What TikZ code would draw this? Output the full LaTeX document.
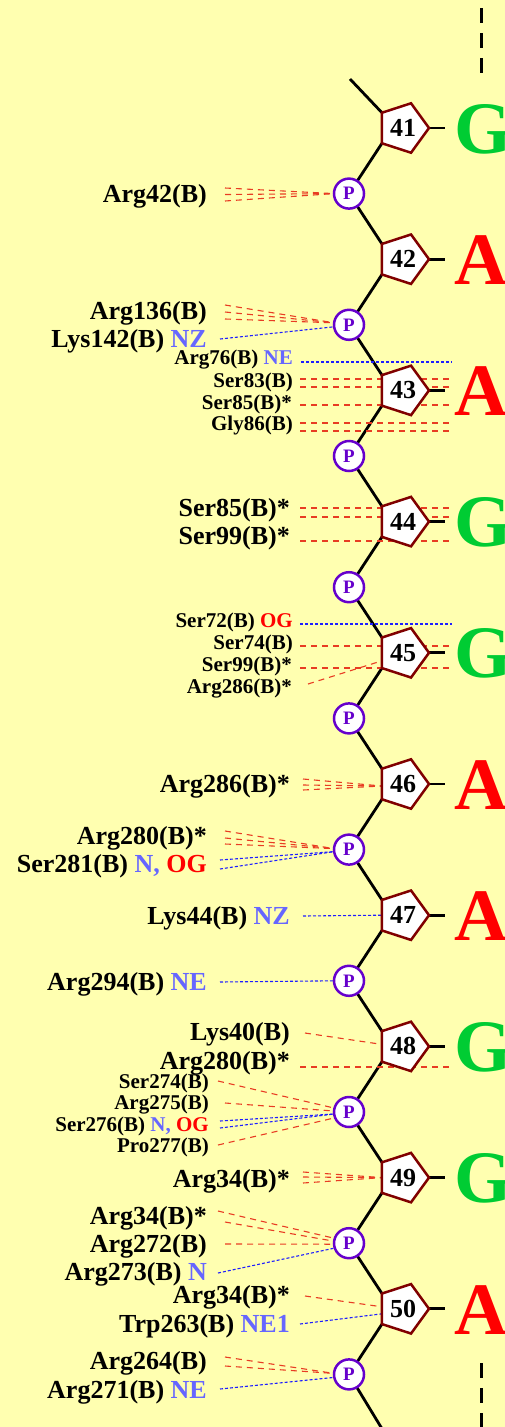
\documentclass[tikz,border=0pt]{standalone}
\usepackage{fontspec}
\setmainfont{Liberation Serif}
\usepackage{xcolor}
\usetikzlibrary{shapes.geometric,backgrounds}

\definecolor{paper}{RGB}{255,255,176}
\definecolor{sugarred}{RGB}{128,0,0}
\definecolor{phpurple}{RGB}{102,0,204}
\definecolor{hbred}{RGB}{232,60,35}
\definecolor{hbblue}{RGB}{30,30,255}
\definecolor{atomblue}{RGB}{102,102,255}
\definecolor{atomred}{RGB}{255,0,0}
\definecolor{baseG}{RGB}{0,204,51}
\definecolor{baseA}{RGB}{255,0,0}

\begin{document}
\begin{tikzpicture}[x=1pt,y=-1pt,
  sugar/.style={regular polygon,regular polygon sides=5,shape border rotate=-90,
    minimum size=52pt,inner sep=0pt,outer sep=0pt,draw=sugarred,line width=2.5pt,
    fill=white,font=\fontsize{26}{26}\selectfont\bfseries},
  phos/.style={circle,minimum size=30pt,inner sep=0pt,outer sep=0pt,draw=phpurple,
    line width=2.5pt,fill=white,text=phpurple,font=\fontsize{19}{19}\selectfont\bfseries},
  big/.style={anchor=east,inner sep=0pt,font=\fontsize{26}{26}\selectfont\bfseries},
  small/.style={anchor=east,inner sep=0pt,font=\fontsize{21}{21}\selectfont\bfseries},
  base/.style={anchor=west,inner sep=0pt,font=\fontsize{74}{74}\selectfont\bfseries},
  bb/.style={line width=2.8pt},
  hb/.style={hbred,line width=1.1pt,dash pattern=on 6pt off 5pt},
  nb/.style={hbblue,line width=1.1pt,dash pattern=on 3pt off 2pt},
  strand/.style={line width=3pt,dash pattern=on 15pt off 10pt}]

  \path[use as bounding box] (0,0) rectangle (505,1427);
  \clip (0,0) rectangle (505,1427);

  \node[sugar] (s41) at (403,128) {41};
  \node[sugar] (s42) at (403,259.2) {42};
  \node[sugar] (s43) at (403,390.4) {43};
  \node[sugar] (s44) at (403,521.6) {44};
  \node[sugar] (s45) at (403,652.8) {45};
  \node[sugar] (s46) at (403,784) {46};
  \node[sugar] (s47) at (403,915.2) {47};
  \node[sugar] (s48) at (403,1046.4) {48};
  \node[sugar] (s49) at (403,1177.6) {49};
  \node[sugar] (s50) at (403,1308.8) {50};

  \node[phos] (p42) at (349,193.6) {P};
  \node[phos] (p43) at (349,324.8) {P};
  \node[phos] (p44) at (349,456) {P};
  \node[phos] (p45) at (349,587.2) {P};
  \node[phos] (p46) at (349,718.4) {P};
  \node[phos] (p47) at (349,849.6) {P};
  \node[phos] (p48) at (349,980.8) {P};
  \node[phos] (p49) at (349,1112) {P};
  \node[phos] (p50) at (349,1243.2) {P};
  \node[phos] (p51) at (349,1374.4) {P};

  \node[base,text=baseG] (b41) at (454,129) {G};
  \node[base,text=baseA] (b42) at (454,260.2) {A};
  \node[base,text=baseA] (b43) at (454,391.4) {A};
  \node[base,text=baseG] (b44) at (454,522.6) {G};
  \node[base,text=baseG] (b45) at (454,653.8) {G};
  \node[base,text=baseA] (b46) at (454,785) {A};
  \node[base,text=baseA] (b47) at (454,916.2) {A};
  \node[base,text=baseG] (b48) at (454,1047.4) {G};
  \node[base,text=baseG] (b49) at (454,1178.6) {G};
  \node[base,text=baseA] (b50) at (454,1309.8) {A};

  \coordinate (top) at (350,79);
  \coordinate (bot) at (387,1437);

  \node[big] (arg42) at (207,196) {Arg42(B)};
  \node[big] (arg136) at (207,313) {Arg136(B)};
  \node[big] (lys142) at (207,341) {Lys142(B) \textcolor{atomblue}{NZ}};
  \node[small] (arg76) at (293,360) {Arg76(B) \textcolor{atomblue}{NE}};
  \node[small] (ser83) at (293,382) {Ser83(B)};
  \node[small] (ser85a) at (292,404) {Ser85(B)*};
  \node[small] (gly86) at (293,425) {Gly86(B)};
  \node[big] (ser85b) at (290,510) {Ser85(B)*};
  \node[big] (ser99a) at (290,538) {Ser99(B)*};
  \node[small] (ser72) at (293,622) {Ser72(B) \textcolor{atomred}{OG}};
  \node[small] (ser74) at (293,644) {Ser74(B)};
  \node[small] (ser99b) at (292,666) {Ser99(B)*};
  \node[small] (arg286a) at (292,689) {Arg286(B)*};
  \node[big] (arg286b) at (290,786) {Arg286(B)*};
  \node[big] (arg280a) at (207,838) {Arg280(B)*};
  \node[big] (ser281) at (207,866) {Ser281(B) \textcolor{atomblue}{N,} \textcolor{atomred}{OG}};
  \node[big] (lys44) at (290,918) {Lys44(B) \textcolor{atomblue}{NZ}};
  \node[big] (arg294) at (207,984) {Arg294(B) \textcolor{atomblue}{NE}};
  \node[big] (lys40) at (290,1034) {Lys40(B)};
  \node[big] (arg280b) at (290,1063) {Arg280(B)*};
  \node[small] (ser274) at (209,1083) {Ser274(B)};
  \node[small] (arg275) at (209,1105) {Arg275(B)};
  \node[small] (ser276) at (209,1126) {Ser276(B) \textcolor{atomblue}{N,} \textcolor{atomred}{OG}};
  \node[small] (pro277) at (209,1147) {Pro277(B)};
  \node[big] (arg34a) at (290,1181) {Arg34(B)*};
  \node[big] (arg34b) at (207,1218) {Arg34(B)*};
  \node[big] (arg272) at (207,1246) {Arg272(B)};
  \node[big] (arg273) at (207,1274) {Arg273(B) \textcolor{atomblue}{N}};
  \node[big] (arg34c) at (290,1297) {Arg34(B)*};
  \node[big] (trp263) at (290,1326) {Trp263(B) \textcolor{atomblue}{NE1}};
  \node[big] (arg264) at (207,1363) {Arg264(B)};
  \node[big] (arg271) at (207,1392) {Arg271(B) \textcolor{atomblue}{NE}};

  \begin{pgfonlayer}{background}
    \fill[paper] (0,0) rectangle (505,1427);
    \draw[strand] (481,8) -- (481,78);
    \draw[strand] (481,1363) -- (481,1432);

    \draw[bb] (top) -- (s41.corner 3);
    \draw[bb] (s41.corner 4) -- (p42) -- (s42.corner 3);
    \draw[bb] (s42.corner 4) -- (p43) -- (s43.corner 3);
    \draw[bb] (s43.corner 4) -- (p44) -- (s44.corner 3);
    \draw[bb] (s44.corner 4) -- (p45) -- (s45.corner 3);
    \draw[bb] (s45.corner 4) -- (p46) -- (s46.corner 3);
    \draw[bb] (s46.corner 4) -- (p47) -- (s47.corner 3);
    \draw[bb] (s47.corner 4) -- (p48) -- (s48.corner 3);
    \draw[bb] (s48.corner 4) -- (p49) -- (s49.corner 3);
    \draw[bb] (s49.corner 4) -- (p50) -- (s50.corner 3);
    \draw[bb] (s50.corner 4) -- (p51) -- (bot);
    \draw[bb] (s41.corner 1) -- +(16,0);
    \draw[bb] (s42.corner 1) -- +(16,0);
    \draw[bb] (s43.corner 1) -- +(16,0);
    \draw[bb] (s44.corner 1) -- +(16,0);
    \draw[bb] (s45.corner 1) -- +(16,0);
    \draw[bb] (s46.corner 1) -- +(16,0);
    \draw[bb] (s47.corner 1) -- +(16,0);
    \draw[bb] (s48.corner 1) -- +(16,0);
    \draw[bb] (s49.corner 1) -- +(16,0);
    \draw[bb] (s50.corner 1) -- +(16,0);

    \draw[hb] ([xshift=18pt,yshift=8pt]arg42.east) -- (p42.west);
    \draw[hb] ([xshift=18pt,yshift=1.5pt]arg42.east) -- (p42.west);
    \draw[hb] ([xshift=18pt,yshift=-5pt]arg42.east) -- (p42.west);

    \draw[hb] ([xshift=18pt,yshift=8pt]arg136.east) -- ([yshift=2pt]p43.west);
    \draw[hb] ([xshift=18pt,yshift=1pt]arg136.east) -- ([yshift=2pt]p43.west);
    \draw[hb] ([xshift=18pt,yshift=-6pt]arg136.east) -- ([yshift=2pt]p43.west);
    \draw[nb] ([xshift=13pt,yshift=2pt]lys142.east) -- ([yshift=-2pt]p43.west);

    \draw[nb] ([xshift=8pt,yshift=-2pt]arg76.east) -- +(151,0);
    \draw[hb] ([xshift=7pt,yshift=3pt]ser83.east) -- +(152,0);
    \draw[hb] ([xshift=7pt,yshift=-5pt]ser83.east) -- +(152,0);
    \draw[hb] ([xshift=8pt,yshift=-1pt]ser85a.east) -- +(151,0);
    \draw[hb] ([xshift=7pt,yshift=2pt]gly86.east) -- +(152,0);
    \draw[hb] ([xshift=7pt,yshift=-6pt]gly86.east) -- +(152,0);

    \draw[hb] ([xshift=10pt,yshift=2pt]ser85b.east) -- +(152,0);
    \draw[hb] ([xshift=10pt,yshift=-7pt]ser85b.east) -- +(152,0);
    \draw[hb] ([xshift=10pt,yshift=-3pt]ser99a.east) -- +(152,0);

    \draw[nb] ([xshift=7pt,yshift=-2pt]ser72.east) -- +(152,0);
    \draw[hb] ([xshift=7pt,yshift=-2pt]ser74.east) -- +(152,0);
    \draw[hb] ([xshift=8pt,yshift=-2pt]ser99b.east) -- +(151,0);
    \draw[hb] ([xshift=16pt,yshift=5pt]arg286a.east) -- ([yshift=-8pt]s45.west);

    \draw[hb] ([xshift=13pt,yshift=7pt]arg286b.east) -- ([yshift=-2pt]s46.west);
    \draw[hb] ([xshift=13pt,yshift=1pt]arg286b.east) -- ([yshift=-2pt]s46.west);
    \draw[hb] ([xshift=13pt,yshift=-4pt]arg286b.east) -- ([yshift=-2pt]s46.west);

    \draw[hb] ([xshift=18pt,yshift=7pt]arg280a.east) -- ([yshift=1pt]p47.west);
    \draw[hb] ([xshift=18pt,yshift=0pt]arg280a.east) -- ([yshift=1pt]p47.west);
    \draw[hb] ([xshift=18pt,yshift=-6pt]arg280a.east) -- ([yshift=1pt]p47.west);
    \draw[nb] ([xshift=13pt,yshift=6pt]ser281.east) -- ([yshift=-2pt]p47.west);
    \draw[nb] ([xshift=13pt,yshift=-3pt]ser281.east) -- ([yshift=-2pt]p47.west);

    \draw[nb] ([xshift=13pt,yshift=2pt]lys44.east) -- (s47.west);
    \draw[nb] ([xshift=13pt,yshift=2pt]arg294.east) -- (p48.west);

    \draw[hb] ([xshift=15pt,yshift=1pt]lys40.east) -- ([yshift=2pt]s48.west);
    \draw[hb] ([xshift=10pt,yshift=-4pt]arg280b.east) -- +(152,0);

    \draw[hb] ([xshift=9pt,yshift=2pt]ser274.east) -- ([yshift=4pt]p49.west);
    \draw[hb] ([xshift=16pt,yshift=2pt]arg275.east) -- ([yshift=1pt]p49.west);
    \draw[nb] ([xshift=11pt,yshift=5pt]ser276.east) -- ([yshift=-2pt]p49.west);
    \draw[nb] ([xshift=11pt,yshift=-2pt]ser276.east) -- ([yshift=-2pt]p49.west);
    \draw[hb] ([xshift=9pt,yshift=2pt]pro277.east) -- ([yshift=-6pt]p49.west);

    \draw[hb] ([xshift=13pt,yshift=9pt]arg34a.east) -- (s49.west);
    \draw[hb] ([xshift=13pt,yshift=4pt]arg34a.east) -- (s49.west);
    \draw[hb] ([xshift=13pt,yshift=-2pt]arg34a.east) -- (s49.west);

    \draw[hb] ([xshift=11pt,yshift=7pt]arg34b.east) -- ([yshift=5pt]p50.west);
    \draw[hb] ([xshift=18pt,yshift=-4pt]arg34b.east) -- ([yshift=2pt]p50.west);
    \draw[hb] ([xshift=18pt,yshift=2pt]arg272.east) -- ([yshift=-1pt]p50.west);
    \draw[nb] ([xshift=11pt,yshift=1pt]arg273.east) -- ([yshift=-5pt]p50.west);

    \draw[hb] ([xshift=15pt,yshift=1pt]arg34c.east) -- ([yshift=2pt]s50.west);
    \draw[nb] ([xshift=10pt,yshift=2pt]trp263.east) -- ([yshift=-5pt]s50.west);

    \draw[hb] ([xshift=18pt,yshift=6pt]arg264.east) -- ([yshift=1pt]p51.west);
    \draw[hb] ([xshift=18pt,yshift=-3pt]arg264.east) -- ([yshift=1pt]p51.west);
    \draw[nb] ([xshift=13pt,yshift=3pt]arg271.east) -- ([yshift=-3pt]p51.west);
  \end{pgfonlayer}
\end{tikzpicture}
\end{document}
